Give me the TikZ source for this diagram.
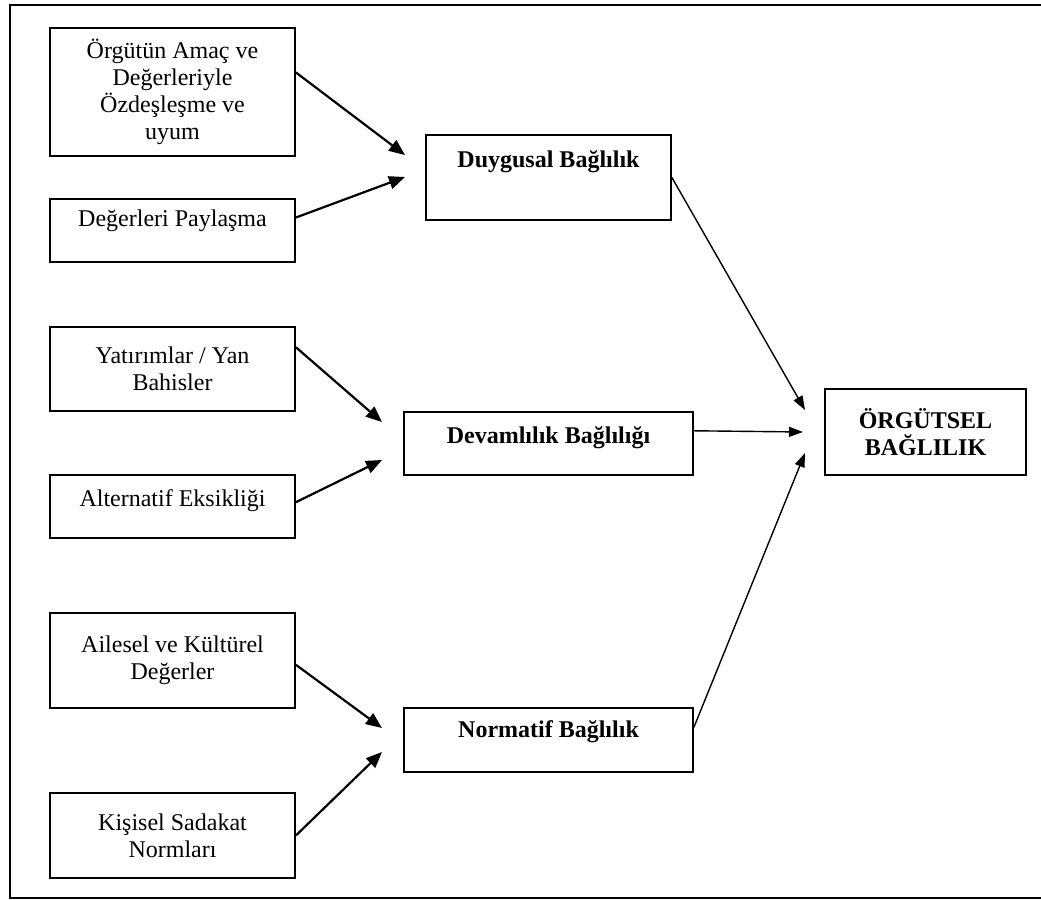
\documentclass[tikz,border=0pt]{standalone}
\usepackage{fontspec}
\setmainfont{Liberation Serif}
\usetikzlibrary{arrows.meta}

% raise a line inside its box, keeping the box size
\newcommand{\lift}[2]{\raisebox{#1}[\height][\depth]{#2}}

\tikzset{
  box/.style={draw, line width=0.9pt, align=center, minimum width=122.5pt, inner sep=2pt,
    font=\fontsize{12}{13.5}\selectfont},
  midbox/.style={box, minimum width=144.5pt, font=\fontsize{12}{13.5}\selectfont\bfseries},
  feed/.style={line width=1.1pt, -{Triangle[length=8pt,width=6.5pt]}},
  tojoin/.style={line width=0.7pt, -{Triangle[length=7pt,width=5pt]}},
  frame/.style={line width=0.8pt}
}

\begin{document}
\begin{tikzpicture}[x=0.5pt, y=-0.5pt]
	\useasboundingbox (0,0) rectangle (1041,900);
	\draw[frame] (1041,5) -- (10,5) -- (10,898) -- (1041,898);

	% sources
	\node[box, minimum height=64pt] (ama) at (172.5,92) {Örgütün Amaç ve\\ Değerleriyle\\ Özdeşleşme ve\\ uyum};
	\node[box, minimum height=31.5pt] (pay) at (172.5,230.5) {\lift{5pt}{Değerleri Paylaşma}};
	\node[box, minimum height=42pt] (yat) at (172.5,369) {Yatırımlar / Yan\\ Bahisler};
	\node[box, minimum height=31.5pt] (alt) at (172.5,506.5) {\lift{3pt}{Alternatif Eksikliği}};
	\node[box, minimum height=47.5pt] (ail) at (172.5,660.5) {Ailesel ve Kültürel\\ Değerler};
	\node[box, minimum height=42.5pt] (kis) at (172.5,835.5) {Kişisel Sadakat\\ Normları};

	% dimensions
	\node[midbox, minimum width=122.5pt, minimum height=42.5pt] (duy) at (548.5,177.5) {\lift{7.75pt}{Duygusal Bağlılık}};
	\node[midbox, minimum height=31.5pt] (dev) at (548.5,443.5) {\lift{3pt}{Devamlılık Bağlılığı}};
	\node[midbox, minimum height=32pt] (nor) at (548.5,740) {\lift{4pt}{Normatif Bağlılık}};

	% result
	\node[box, minimum width=100.5pt, minimum height=43pt, font=\fontsize{12}{13.5}\selectfont\bfseries] (org) at (925.5,432) {ÖRGÜTSEL\\ BAĞLILIK};

	% arrow tips
	\coordinate (d1) at (405,155);
	\coordinate (d2) at (405,177);
	\coordinate (v1) at (382,422);
	\coordinate (v2) at (382,460);
	\coordinate (n1) at (382,728);
	\coordinate (n2) at (382,752);
	\coordinate (o1) at (805,410);
	\coordinate (o2) at (803,432);
	\coordinate (o3) at (805,453);

	\draw[feed] (ama.9) -- (d1);
	\draw[feed] (pay.6) -- (d2);
	\draw[feed] (yat.10) -- (v1);
	\draw[feed] (alt.2) -- (v2);
	\draw[feed] (ail.-2) -- (n1);
	\draw[feed] (kis.east) -- (n2);

	\draw[tojoin] (duy.east) -- (o1);
	\draw[tojoin] (dev.5) -- (o2);
	\draw[tojoin] (nor.5) -- (o3);
\end{tikzpicture}
\end{document}
